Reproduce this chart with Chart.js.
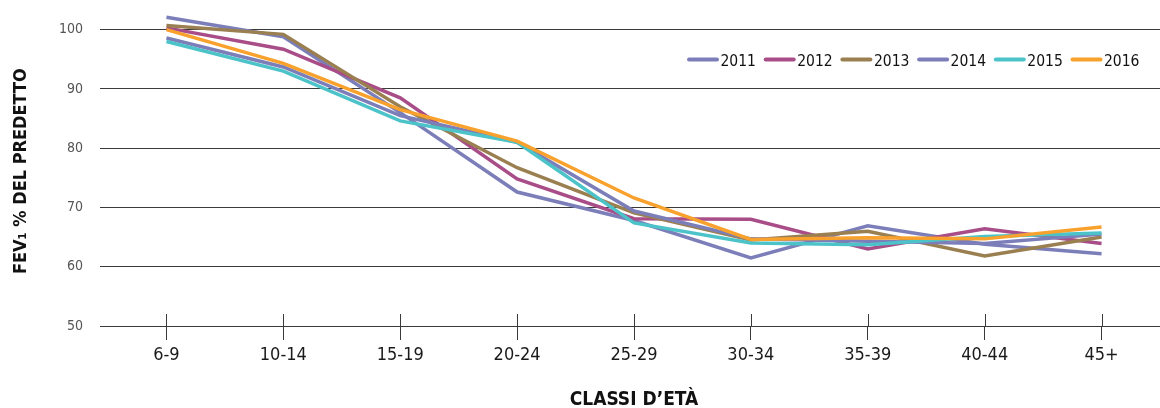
<!DOCTYPE html>
<html>
<head>
<meta charset="utf-8">
<script src="https://cdn.jsdelivr.net/npm/chart.js@4.4.1/dist/chart.umd.min.js"></script>
<style>
  html, body { margin: 0; padding: 0; background: #ffffff; }
  #wrap { width: 1160px; height: 408px; position: relative; }
</style>
</head>
<body>
<div id="wrap"><canvas id="c" width="1160" height="408"></canvas></div>
<script>
// ---- data ----
const categories = ['6-9', '10-14', '15-19', '20-24', '25-29', '30-34', '35-39', '40-44', '45+'];
const seriesNames = ['2011', '2012', '2013', '2014', '2015', '2016'];
const v2011 = [102.1, 98.8, 86.0, 72.6, 67.8, 61.5, 66.9, 63.8, 62.2];
const v2012 = [100.3, 96.7, 88.5, 74.8, 68.1, 68.0, 63.0, 66.4, 63.9];
const v2013 = [100.7, 99.2, 87.0, 76.7, 69.1, 64.5, 66.0, 61.8, 65.0];
const v2014 = [98.6, 93.7, 85.5, 81.0, 69.4, 64.7, 64.3, 63.9, 65.5];
const v2015 = [98.0, 93.0, 84.6, 81.0, 67.4, 64.0, 63.7, 65.1, 65.7];
const v2016 = [100.0, 94.3, 86.5, 81.2, 71.6, 64.6, 64.9, 64.7, 66.7];
const yTicks = [50, 60, 70, 80, 90, 100];
const yTitle = 'FEV\u2081 % DEL PREDETTO';
const xTitle = 'CLASSI D\u2019ET\u00C0';

const seriesValues = [v2011, v2012, v2013, v2014, v2015, v2016];
const seriesColors = ['#7b7eb8', '#a84d87', '#9a7f51', '#7b7eb8', '#4cc3c9', '#f8a12d'];

const NARROW = "'DejaVu Sans Condensed', 'DejaVu Sans', sans-serif";

const datasets = seriesNames.map((name, i) => ({
  label: name,
  data: seriesValues[i],
  borderColor: seriesColors[i],
  backgroundColor: seriesColors[i],
  borderWidth: 3.5,
  pointRadius: 0,
  tension: 0,
  fill: false,
  order: seriesNames.length - i
}));

// legend drawn inside the plot area, top right
const insideLegend = {
  id: 'insideLegend',
  afterDraw(chart) {
    const ctx = chart.ctx;
    ctx.save();
    ctx.font = '15.5px ' + NARROW;
    ctx.textBaseline = 'alphabetic';
    ctx.textAlign = 'left';
    const startX = 687, step = 76.7, cy = 59.5;
    chart.data.datasets.forEach((ds, i) => {
      const x0 = startX + i * step;
      ctx.strokeStyle = ds.borderColor;
      ctx.lineWidth = 4;
      ctx.lineCap = 'round';
      ctx.beginPath();
      ctx.moveTo(x0 + 2, cy);
      ctx.lineTo(x0 + 30, cy);
      ctx.stroke();
      ctx.fillStyle = '#111111';
      ctx.fillText(ds.label, x0 + 33.5, cy + 6.5);
    });
    ctx.restore();
  }
};

// category tick marks cross the axis line (upper half)
const crossTicks = {
  id: 'crossTicks',
  afterDraw(chart) {
    const xs = chart.scales.x;
    const ctx = chart.ctx;
    const bottom = chart.chartArea.bottom;
    ctx.save();
    ctx.strokeStyle = '#3a3a3a';
    ctx.lineWidth = 1;
    xs.ticks.forEach((t, i) => {
      const x = Math.round(xs.getPixelForTick(i)) + 0.5;
      ctx.beginPath();
      ctx.moveTo(x, bottom - 12);
      ctx.lineTo(x, bottom);
      ctx.stroke();
    });
    ctx.restore();
  }
};

new Chart(document.getElementById('c'), {
  type: 'line',
  data: { labels: categories, datasets },
  options: {
    responsive: false,
    animation: false,
    devicePixelRatio: 1,
    layout: { padding: 0 },
    plugins: {
      legend: { display: false },
      tooltip: { enabled: false }
    },
    scales: {
      x: {
        type: 'category',
        offset: true,
        afterFit(scale) { scale.height = 82; scale.paddingLeft = 0; scale.paddingRight = 0; },
        border: { display: false },
        grid: {
          offset: false,
          drawOnChartArea: false,
          drawTicks: true,
          tickLength: 14,
          color: '#3a3a3a',
          lineWidth: 1
        },
        ticks: {
          color: '#1a1a1a',
          font: { family: NARROW, size: 18 },
          padding: 5,
          maxRotation: 0,
          autoSkip: false
        },
        title: {
          display: true,
          text: xTitle,
          color: '#111111',
          font: { family: NARROW, size: 19, weight: 'bold', lineHeight: 0.8 },
          padding: { top: 0, bottom: 0 }
        }
      },
      y: {
        type: 'linear',
        min: 50,
        max: 105,
        afterFit(scale) { scale.width = 108; scale.paddingTop = 0; scale.paddingBottom = 0; },
        afterBuildTicks(scale) { scale.ticks = yTicks.map(v => ({ value: v })); },
        border: { display: false },
        grid: {
          color: '#3a3a3a',
          lineWidth: 1,
          drawTicks: true,
          tickLength: 8
        },
        ticks: {
          color: '#555555',
          font: { family: NARROW, size: 14 },
          padding: 17
        },
        title: {
          display: true,
          text: yTitle + '\u2002\u2002',
          color: '#111111',
          font: { family: NARROW, size: 18, weight: 'bold', lineHeight: 1 },
          padding: { top: 12, bottom: 0 }
        }
      }
    }
  },
  plugins: [insideLegend, crossTicks]
});
</script>
</body>
</html>
